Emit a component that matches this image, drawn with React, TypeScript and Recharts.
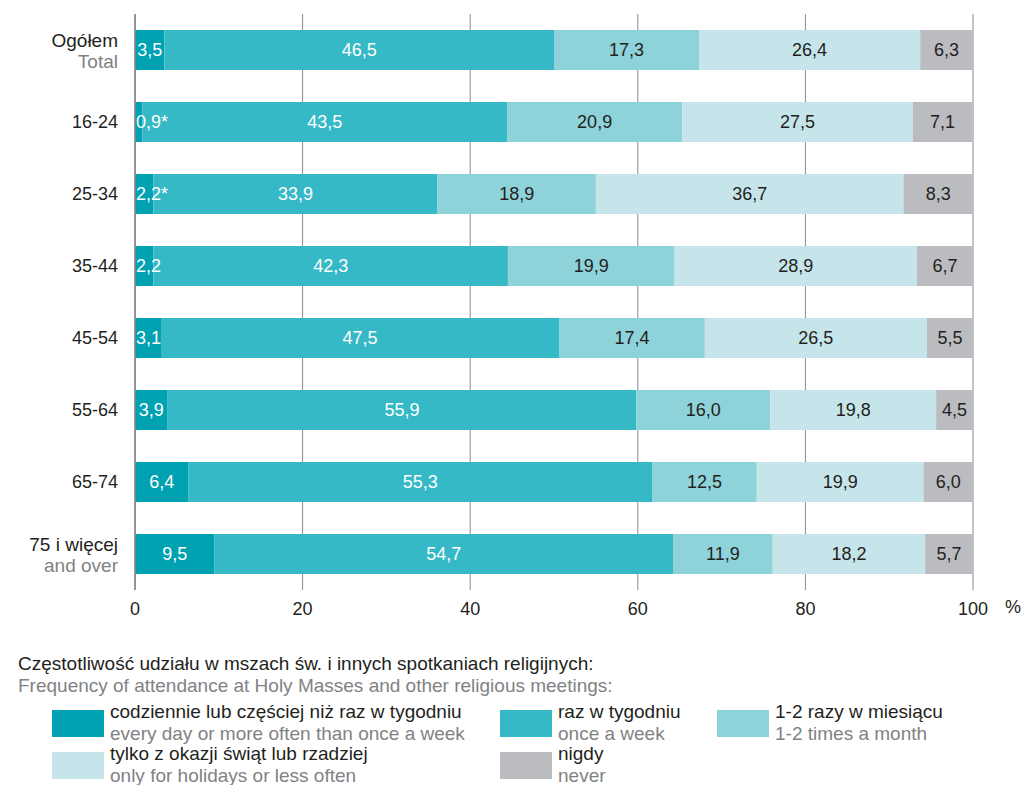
import React from 'react';
import { BarChart, Bar, XAxis, YAxis, CartesianGrid, LabelList } from 'recharts';

const categories = ['Ogółem', '16-24', '25-34', '35-44', '45-54', '55-64', '65-74', '75 i więcej'];
const categoriesEn = ['Total', '', '', '', '', '', '', 'and over'];
const daily = [3.5, 0.9, 2.2, 2.2, 3.1, 3.9, 6.4, 9.5];
const dailyMark = ['', '*', '*', '', '', '', '', ''];
const weekly = [46.5, 43.5, 33.9, 42.3, 47.5, 55.9, 55.3, 54.7];
const monthly = [17.3, 20.9, 18.9, 19.9, 17.4, 16.0, 12.5, 11.9];
const holidays = [26.4, 27.5, 36.7, 28.9, 26.5, 19.8, 19.9, 18.2];
const never = [6.3, 7.1, 8.3, 6.7, 5.5, 4.5, 6.0, 5.7];
const xTicks = [0, 20, 40, 60, 80, 100];

const seriesKeys = ['daily', 'weekly', 'monthly', 'holidays', 'never'];
const seriesColors = ['#00A1B1', '#36B9C6', '#8ED2DA', '#C5E5EA', '#BBBCC0'];
const labelColors = ['#FFFFFF', '#FFFFFF', '#231F20', '#231F20', '#231F20'];
const legendPl = [
  'codziennie lub częściej niż raz w tygodniu',
  'raz w tygodniu',
  '1-2 razy w miesiącu',
  'tylko z okazji świąt lub rzadziej',
  'nigdy',
];
const legendEn = [
  'every day or more often than once a week',
  'once a week',
  '1-2 times a month',
  'only for holidays or less often',
  'never',
];

const data = categories.map((c, i) => ({
  name: c,
  daily: daily[i],
  weekly: weekly[i],
  monthly: monthly[i],
  holidays: holidays[i],
  never: never[i],
}));

const FONT = '"Liberation Sans", Arial, sans-serif';
const DARK = '#231F20';
const GRAY = '#808285';
const LABEL_SIZE = 18;

const fmt = (v: number) => v.toFixed(1).replace('.', ',');

const approxWidth = (s: string) =>
  s.split('').reduce((w, ch) => w + (ch === ',' ? 0.278 : ch === '*' ? 0.389 : 0.556), 0) * LABEL_SIZE;

const YTick = (props: any) => {
  const { x, y, payload, index } = props;
  const en = categoriesEn[payload.index ?? index] || '';
  if (en) {
    return (
      <g>
        <text x={x} y={y - 3} textAnchor="end" fontSize={19} fill={DARK} fontFamily={FONT}>{payload.value}</text>
        <text x={x} y={y + 18} textAnchor="end" fontSize={19} fill={GRAY} fontFamily={FONT}>{en}</text>
      </g>
    );
  }
  return (
    <text x={x} y={y + 6} textAnchor="end" fontSize={18} fill={DARK} fontFamily={FONT}>{payload.value}</text>
  );
};

const makeLabel = (si: number) => (props: any) => {
  const { x, y, width, height, value, index } = props;
  const txt = fmt(value) + (si === 0 ? dailyMark[index] : '');
  const tw = approxWidth(txt);
  const cx = si === 0 ? Math.max(x + width / 2, x + 1 + tw / 2) : x + width / 2;
  return (
    <text
      x={cx}
      y={y + height / 2 + 6}
      textAnchor="middle"
      fontSize={LABEL_SIZE}
      fill={labelColors[si]}
      fontFamily={FONT}
    >
      {txt}
    </text>
  );
};

const legendCols = [52, 500, 717, 52, 500];

export default function App() {
  return (
    <div style={{ position: 'absolute', left: 0, top: 0, width: 1023, height: 785, background: '#fff', fontFamily: FONT }}>
      <BarChart
        width={1023}
        height={630}
        data={data}
        layout="vertical"
        margin={{ top: 14, right: 50, bottom: 10, left: 0 }}
        barCategoryGap={16}
      >
        <CartesianGrid horizontal={false} vertical stroke="#8A8A8A" />
        <XAxis
          type="number"
          domain={[0, 100]}
          ticks={xTicks}
          axisLine={false}
          tickLine={false}
          height={30}
          tick={{ fontSize: 18, fill: DARK, fontFamily: FONT }}
          tickMargin={6}
          allowDataOverflow
        />
        <YAxis
          type="category"
          dataKey="name"
          width={135}
          axisLine={{ stroke: '#8A8A8A', strokeWidth: 1.6 }}
          tickLine={false}
          tick={<YTick />}
          tickMargin={11}
        />
        {seriesKeys.map((k, si) => (
          <Bar key={k} dataKey={k} stackId="a" fill={seriesColors[si]} barSize={40} isAnimationActive={false}>
            <LabelList dataKey={k} content={makeLabel(si)} />
          </Bar>
        ))}
      </BarChart>
      <div style={{ position: 'absolute', left: 1005, top: 597, fontSize: 18, lineHeight: '20px', color: DARK }}>%</div>
      <div style={{ position: 'absolute', left: 18, top: 653, fontSize: 19, lineHeight: '21px', color: DARK, whiteSpace: 'nowrap' }}>
        Częstotliwość udziału w mszach św. i innych spotkaniach religijnych:
      </div>
      <div style={{ position: 'absolute', left: 18, top: 675, fontSize: 19, lineHeight: '21px', color: GRAY, whiteSpace: 'nowrap' }}>
        Frequency of attendance at Holy Masses and other religious meetings:
      </div>
      {legendPl.map((pl, i) => {
        const col = legendCols[i];
        const row = i < 3 ? 0 : 1;
        const top = 710 + row * 42;
        return (
          <div key={pl} style={{ position: 'absolute', left: col, top }}>
            <div style={{ position: 'absolute', left: 0, top: 0, width: 52, height: 27, background: seriesColors[i] }} />
            <div style={{ position: 'absolute', left: 58, top: -9, whiteSpace: 'nowrap', fontSize: 19, lineHeight: '21px', color: DARK }}>{pl}</div>
            <div style={{ position: 'absolute', left: 58, top: 13, whiteSpace: 'nowrap', fontSize: 19, lineHeight: '21px', color: GRAY }}>{legendEn[i]}</div>
          </div>
        );
      })}
    </div>
  );
}
